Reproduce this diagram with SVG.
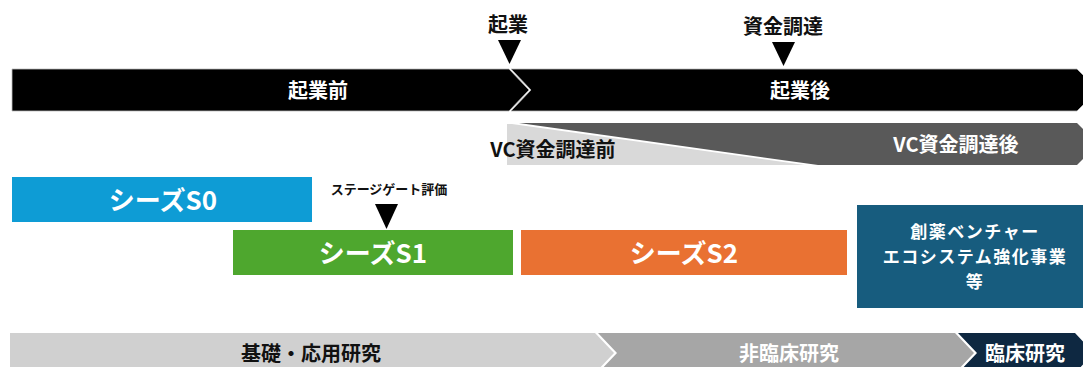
<svg xmlns="http://www.w3.org/2000/svg" width="1083" height="367" viewBox="0 0 1083 367">
<style>
text{font-family:"Noto Sans CJK JP","Noto Sans",sans-serif;font-weight:bold;text-anchor:middle;dominant-baseline:central}
.w{fill:#fff}
.k{fill:#111}
.lbl{font-size:20px}
.box{font-size:17px;letter-spacing:1.5px}
.seed{font-size:26px}
.sm{font-size:13px}
</style>
<rect width="1083" height="367" fill="#fff"/>
<g id="markers">
<text class="k lbl" x="508" y="23">起業</text>
<polygon points="498,40 521,40 509.5,64" fill="#000"/>
<text class="k lbl" x="783" y="25">資金調達</text>
<polygon points="772,42 795,42 783.5,66" fill="#000"/>
</g>
<g id="timeline-before">
<polygon points="12,69 509,69 529,90 509,111 12,111" fill="#000" stroke="#bbb" stroke-width="0.8"/>
<text class="w lbl" x="318" y="89">起業前</text>
</g>
<g id="timeline-after">
<polygon points="511,69 1077,69 1098,90 1077,111 511,111 531,90" fill="#000" stroke="#bbb" stroke-width="0.8"/>
<text class="w lbl" x="800" y="89">起業後</text>
</g>
<g id="vc-before">
<polygon points="507,124 512,124 805,165 507,165" fill="#d9d9d9"/>
<text class="k lbl" x="553" y="148">VC資金調達前</text>
</g>
<g id="vc-after">
<polygon points="519,123 1077,123 1098,144 1077,165 818,165" fill="#595959"/>
<text class="w lbl" x="956" y="143">VC資金調達後</text>
</g>
<g id="s0">
<rect x="12" y="177" width="300" height="45" fill="#0e9cd5"/>
<text class="w seed" x="163" y="198">シーズS0</text>
</g>
<g id="stagegate">
<text class="k sm" x="389" y="188">ステージゲート評価</text>
<polygon points="375,204 398,204 386.5,229" fill="#000"/>
</g>
<g id="s1">
<rect x="233" y="230" width="280" height="45" fill="#4ea72e"/>
<text class="w seed" x="373" y="251">シーズS1</text>
</g>
<g id="s2">
<rect x="521" y="230" width="326" height="45" fill="#e97132"/>
<text class="w seed" x="684" y="251">シーズS2</text>
</g>
<g id="ecosystem">
<rect x="857" y="205" width="230" height="103" fill="#175c7e"/>
<text class="w box" x="975" y="230">創薬ベンチャー</text>
<text class="w box" x="975" y="255">エコシステム強化事業</text>
<text class="w box" x="975" y="280">等</text>
</g>
<g id="basic">
<polygon points="10,333 595,333 614,353 595,373 10,373" fill="#d0d0d0"/>
<text class="k lbl" x="311" y="352">基礎・応用研究</text>
</g>
<g id="nonclinical">
<polygon points="598,333 955,333 974,353 955,373 598,373 617,353" fill="#a6a6a6"/>
<text class="w lbl" x="789" y="352">非臨床研究</text>
</g>
<g id="clinical">
<polygon points="958,333 1075,333 1094,353 1075,373 958,373 977,353" fill="#0e2841"/>
<text class="w lbl" x="1025" y="352">臨床研究</text>
</g>
<g id="connectors"></g>
</svg>
